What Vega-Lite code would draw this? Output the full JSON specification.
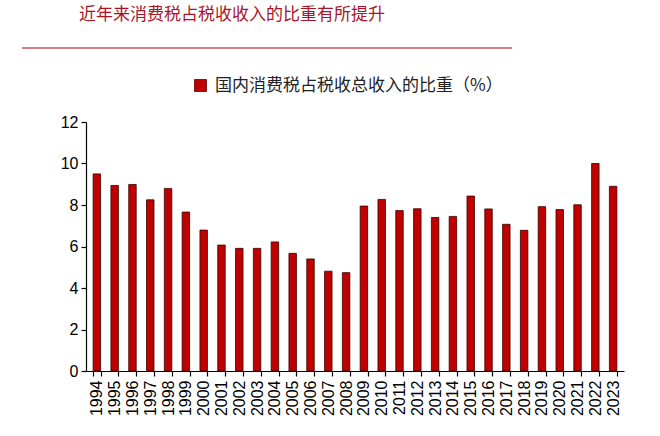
{
  "$schema": "https://vega.github.io/schema/vega-lite/v6.json",
  "autosize": "none",
  "width": 538,
  "height": 249,
  "padding": {"left": 86, "top": 122, "right": 36, "bottom": 65},
  "background": "white",
  "title": {
    "text": "近年来消费税占税收收入的比重有所提升",
    "anchor": "start",
    "frame": "group",
    "font": "Noto Sans CJK SC",
    "fontSize": 17,
    "fontWeight": "normal",
    "color": "#a81428",
    "baseline": "top",
    "dx": -7,
    "offset": 0,
    "dy": -23
  },
  "config": {
    "view": {"stroke": null},
    "font": "Liberation Sans"
  },
  "resolve": {"scale": {"x": "independent"}, "axis": {"x": "independent"}},
  "layer": [
    {
      "data": {
        "values": [
          {"year": "1994", "value": 9.5},
          {"year": "1995", "value": 8.94},
          {"year": "1996", "value": 8.99},
          {"year": "1997", "value": 8.25},
          {"year": "1998", "value": 8.8},
          {"year": "1999", "value": 7.66},
          {"year": "2000", "value": 6.79},
          {"year": "2001", "value": 6.07},
          {"year": "2002", "value": 5.91},
          {"year": "2003", "value": 5.91},
          {"year": "2004", "value": 6.22},
          {"year": "2005", "value": 5.67},
          {"year": "2006", "value": 5.4},
          {"year": "2007", "value": 4.81},
          {"year": "2008", "value": 4.74},
          {"year": "2009", "value": 7.95},
          {"year": "2010", "value": 8.27},
          {"year": "2011", "value": 7.73},
          {"year": "2012", "value": 7.82},
          {"year": "2013", "value": 7.4},
          {"year": "2014", "value": 7.45},
          {"year": "2015", "value": 8.43},
          {"year": "2016", "value": 7.81},
          {"year": "2017", "value": 7.07},
          {"year": "2018", "value": 6.78},
          {"year": "2019", "value": 7.92},
          {"year": "2020", "value": 7.78},
          {"year": "2021", "value": 8.01},
          {"year": "2022", "value": 10.0},
          {"year": "2023", "value": 8.9}
        ]
      },
      "mark": {"type": "bar", "stroke": "#3a0000", "strokeWidth": 0.8},
      "encoding": {
        "x": {
          "field": "year",
          "type": "nominal",
          "sort": null,
          "scale": {"paddingInner": 0.58, "paddingOuter": 0.4},
          "axis": {
            "title": null,
            "labelAngle": -90,
            "labelFontSize": 16,
            "labelColor": "#000",
            "labelPadding": 4,
            "tickBand": "extent",
            "tickColor": "#000",
            "tickSize": 5,
            "domainColor": "#000",
            "domainWidth": 1.2,
            "tickWidth": 1.2
          }
        },
        "y": {
          "field": "value",
          "type": "quantitative",
          "scale": {"domain": [0, 12]},
          "axis": {
            "title": null,
            "values": [0, 2, 4, 6, 8, 10, 12],
            "grid": false,
            "labelFontSize": 16,
            "labelColor": "#000",
            "labelPadding": 3,
            "tickColor": "#000",
            "tickSize": 5,
            "tickWidth": 1.2,
            "domainColor": "#000",
            "domainWidth": 1.2
          }
        },
        "color": {
          "datum": "国内消费税占税收总收入的比重（%）",
          "scale": {"range": ["#c00000"]},
          "legend": {
            "title": null,
            "orient": "none",
            "legendX": 106,
            "legendY": -45,
            "symbolType": "square",
            "symbolSize": 144,
            "symbolStrokeColor": "#5a0000",
            "symbolStrokeWidth": 0.8,
            "labelFont": "Noto Sans CJK SC",
            "labelFontSize": 17,
            "labelColor": "#222",
            "labelOffset": 6,
            "labelLimit": 0
          }
        }
      }
    },
    {
      "data": {"values": [{}]},
      "mark": {"type": "rule", "color": "#c8505a", "strokeWidth": 1.5},
      "encoding": {
        "x": {"datum": -0.119, "type": "quantitative", "scale": {"domain": [0, 1]}, "axis": null},
        "x2": {"datum": 0.792},
        "y": {"datum": 15.57, "type": "quantitative"}
      }
    }
  ]
}
